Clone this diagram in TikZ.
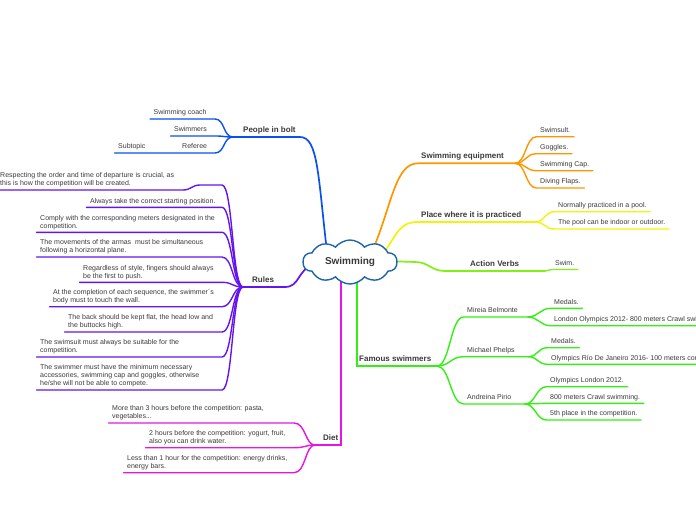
\documentclass[tikz,border=0pt]{standalone}
\usepackage{fontspec}
\setmainfont{Liberation Sans}
\usetikzlibrary{shapes.symbols,backgrounds}
\definecolor{tc}{HTML}{3A3A3A}
\definecolor{cblue}{HTML}{0A50F0}
\definecolor{cpurp}{HTML}{6414F0}
\definecolor{cmag}{HTML}{E614E6}
\definecolor{corange}{HTML}{FF9600}
\definecolor{cyellow}{HTML}{F2F20A}
\definecolor{clime}{HTML}{82F014}
\definecolor{cgreen}{HTML}{32F014}
\definecolor{ccloud}{HTML}{1E64AA}
\begin{document}
\begin{tikzpicture}[x=1pt,y=-1pt,
 txt/.style={font=\fontsize{7}{8}\selectfont, text=tc, align=left, anchor=south west, inner xsep=3.5pt, inner ysep=1.5pt, execute at end node=\strut},
 mainlbl/.style={font=\fontsize{8}{9.5}\selectfont\bfseries, text=tc, anchor=south west, inner xsep=3.5pt, inner ysep=1.5pt, execute at end node=\strut},
 br/.style={line width=1.7pt, line cap=round},
 sb/.style={line width=1.4pt, line cap=round},
 ]
\useasboundingbox (0,0) rectangle (696,520);
\clip (0,0) rectangle (696,520);

% central cloud
\node[cloud, cloud puffs=10, cloud puff arc=105, aspect=2.3, minimum width=94pt, minimum height=44pt, inner sep=0pt,
      draw=ccloud, line width=1.4pt, fill=white, text=tc,
      font=\fontsize{10}{12}\selectfont\bfseries] (c) at (350,262) {Swimming};

% ---------- People in bolt ----------
\node[mainlbl] (pb) at (239.5,137) {People in bolt};
\node[txt] (pc) at (150,119) {Swimming coach};
\node[txt] (ps) at (170.5,136) {Swimmers};
\node[txt] (pr) at (178.5,153) {Referee};
\node[txt] (pst) at (114.5,153) {Subtopic};
\coordinate (fP) at (233,137);
\coordinate (xP) at (215,0);
\coordinate (pbE) at (300,137);
\coordinate (cP) at (327,252);

% ---------- Rules ----------
\node[mainlbl] (ru) at (248.5,287) {Rules};
\node[txt] (r1) at (-3.5,190) {Respecting the order and time of departure is crucial, as\\this is how the competition will be created.};
\node[txt] (r2) at (86.5,207.3) {Always take the correct starting position.};
\node[txt] (r3) at (36.5,232.3) {Comply with the corresponding meters designated in the\\competition.};
\node[txt] (r4) at (36.5,257) {The movements of the armas\ \ must be simultaneous\\following a horizontal plane.};
\node[txt] (r5) at (79.5,282.3) {Regardless of style, fingers should always\\be the first to push.};
\node[txt] (r6) at (49.5,306.7) {At the completion of each sequence, the swimmer´s\\body must to touch the wall.};
\node[txt] (r7) at (64.5,332) {The back should be kept flat, the head low and\\the buttocks high.};
\node[txt] (r8) at (36.5,357) {The swimsuit must always be suitable for the\\competition.};
\node[txt] (r9) at (36.5,390) {The swimmer must have the minimum necessary\\accessories, swimming cap and goggles, otherwise\\he/she will not be able to compete.};
\coordinate (fR) at (243,287);
\coordinate (xR) at (222,0);
\coordinate (rE) at (285,287);
\coordinate (cR) at (314,264);
\coordinate (r1a) at (183,190);
\coordinate (r1b) at (200,185);
\coordinate (r1c) at (222,185);

% ---------- Diet ----------
\node[mainlbl] (di) at (319.5,445) {Diet};
\node[txt] (d1) at (108.5,423) {More than 3 hours before the competition: pasta,\\vegetables...};
\node[txt] (d2) at (145.5,447.7) {2 hours before the competition: yogurt, fruit,\\also you can drink water.};
\node[txt] (d3) at (123.5,472.7) {Less than 1 hour for the competition: energy drinks,\\energy bars.};
\coordinate (fD) at (315,445);
\coordinate (xD) at (294,0);
\coordinate (dE) at (341,445);
\coordinate (cD) at (341,272);

% ---------- Swimming equipment ----------
\node[mainlbl] (se) at (417.5,163.3) {Swimming equipment};
\node[txt] (e1) at (536.5,136.7) {Swimsult.};
\node[txt] (e2) at (536.5,153.7) {Goggles.};
\node[txt] (e3) at (536.5,170.7) {Swimming Cap.};
\node[txt] (e4) at (536.5,188) {Diving Flaps.};
\coordinate (cE) at (372,252);
\coordinate (seS) at (418,163.3);
\coordinate (fE) at (515,163.3);

% ---------- Place ----------
\node[mainlbl] (pl) at (417.5,222) {Place where it is practiced};
\node[txt] (p1) at (554.5,211.7) {Normally practiced in a pool.};
\node[txt] (p2) at (554.5,229) {The pool can be indoor or outdoor.};
\coordinate (cPl) at (382,256);
\coordinate (plS) at (418,222);
\coordinate (fPl) at (535,222);

% ---------- Action Verbs ----------
\node[mainlbl] (av) at (466.5,271) {Action Verbs};
\node[txt] (sw) at (551.5,269.5) {Swim.};
\coordinate (cA) at (385,261);
\coordinate (aA) at (415,262);
\coordinate (aB) at (445,271);
\coordinate (fA) at (545,271);

% ---------- Famous swimmers ----------
\node[mainlbl] (fs) at (355.5,366) {Famous swimmers};
\node[txt] (mb) at (463.5,317) {Mireia Belmonte};
\node[txt] (mp) at (463.5,356.7) {Michael Phelps};
\node[txt] (ap) at (463.5,404) {Andreina Pirio};
\node[txt] (m1) at (550.5,308.3) {Medals.};
\node[txt] (m2) at (550.5,325.7) {London Olympics 2012- 800 meters Crawl swi};
\node[txt] (q1) at (547.5,347.7) {Medals.};
\node[txt] (q2) at (547.5,364.3) {Olympics Río De Janeiro 2016- 100 meters cor};
\node[txt] (a1) at (546.5,386.7) {Olympics London 2012.};
\node[txt] (a2) at (546.5,403.3) {800 meters Crawl swimming.};
\node[txt] (a3) at (546.5,420) {5th place in the competition.};
\coordinate (cF) at (357,272);
\coordinate (fsS) at (357,366);
\coordinate (fF) at (437,366);
\coordinate (fMB) at (528,317);
\coordinate (fMP) at (528,356.7);
\coordinate (fAP) at (525,404);

\begin{pgfonlayer}{background}
% People
\draw[br,cblue] (cP) .. controls (318,175) and (318,137) .. (pbE) -- (fP);
\foreach \n in {pc,ps} \draw[sb,cblue] (\n.south west) -- (\n.south west -| xP) .. controls +(10,0) and +(-10,0) .. (fP);
\draw[sb,cblue] (pst.south west) -- (pr.south west -| xP) .. controls +(10,0) and +(-10,0) .. (fP);
% Rules
\draw[br,cpurp] (cR) .. controls (297,270) and (300,287) .. (rE) -- (fR);
\foreach \n in {r2,r3,r4,r5,r6,r7,r8,r9} \draw[sb,cpurp] (\n.south west) -- (\n.south west -| xR) .. controls +(11,0) and +(-11,0) .. (fR);
\draw[sb,cpurp] (r1.south west) -- (r1a) .. controls +(8,0) and +(-8,0) .. (r1b) -- (r1c) .. controls +(11,0) and +(-11,0) .. (fR);
% Diet
\draw[br,cmag] (cD) -- (dE) -- (fD);
\foreach \n in {d1,d2,d3} \draw[sb,cmag] (\n.south west) -- (\n.south west -| xD) .. controls +(12,0) and +(-10,0) .. (fD);
% Equipment
\draw[br,corange] (cE) .. controls (392,205) and (395,163.3) .. (seS) -- (fE);
\foreach \n in {e1,e2,e3,e4} \draw[sb,corange] (fE) .. controls +(11,0) and +(-11,0) .. (\n.south west) -- (\n.south east);
% Place
\draw[br,cyellow] (cPl) .. controls (398,232) and (400,222) .. (plS) -- (fPl);
\foreach \n in {p1,p2} \draw[sb,cyellow] (fPl) .. controls +(10,0) and +(-10,0) .. (\n.south west) -- (\n.south east);
% Action verbs
\draw[br,clime] (cA) -- (aA) .. controls +(14,0) and +(-14,0) .. (aB) -- (fA);
\draw[sb,clime] (fA) .. controls +(3,0) and +(-3,0) .. (sw.south west) -- (sw.south east);
% Famous
\draw[br,cgreen] (cF) -- (fsS) -- (fF);
\draw[sb,cgreen] (fF) .. controls +(13,0) and +(-13,0) .. (mb.south west) -- (fMB);
\draw[sb,cgreen] (fF) .. controls +(13,0) and +(-13,0) .. (mp.south west) -- (fMP);
\draw[sb,cgreen] (fF) .. controls +(13,0) and +(-13,0) .. (ap.south west) -- (fAP);
\foreach \n in {m1,m2} \draw[sb,cgreen] (fMB) .. controls +(10,0) and +(-10,0) .. (\n.south west) -- (\n.south east);
\foreach \n in {q1,q2} \draw[sb,cgreen] (fMP) .. controls +(10,0) and +(-10,0) .. (\n.south west) -- (\n.south east);
\foreach \n in {a1,a2,a3} \draw[sb,cgreen] (fAP) .. controls +(10,0) and +(-10,0) .. (\n.south west) -- (\n.south east);
\end{pgfonlayer}
\end{tikzpicture}
\end{document}
